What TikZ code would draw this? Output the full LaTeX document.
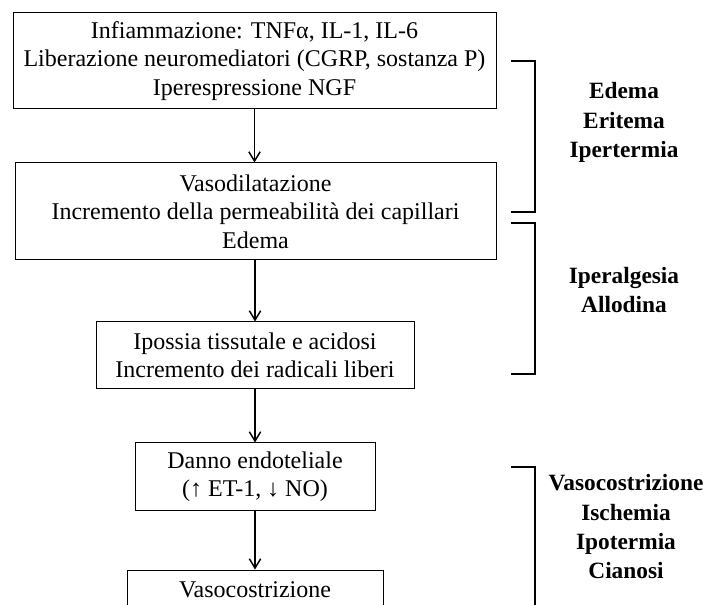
\documentclass[tikz,border=0pt]{standalone}
\usepackage{fontspec}
\setmainfont{Liberation Serif}
\usetikzlibrary{arrows.meta}

\begin{document}
\begin{tikzpicture}[x=0.75pt,y=0.75pt,yscale=-1,
	stepbox/.style={draw, line width=0.75pt, inner sep=0pt, align=center, font=\fontsize{18}{21.4}\selectfont},
	flow/.style={line width=1.1pt, -{Straight Barb[length=7pt,width=8.5pt]}},
	bracket/.style={line width=1.6pt},
	effect/.style={anchor=base, inner sep=0pt, font=\fontsize{17.5}{21}\selectfont\bfseries}]
	%set diagram to 710 x 605
	\clip (0,0) rectangle (710,605);
	
	%Shape: Rectangle [id:infl]
	\draw (254.5,61) node (infl) [stepbox, minimum width=362.25pt, minimum height=72pt] {Infiammazione: TNFα, IL-1, IL-6\\Liberazione neuromediatori (CGRP, sostanza P)\\Iperespressione NGF};
	%Shape: Rectangle [id:vaso]
	\draw (255.5,211.5) node (vaso) [stepbox, minimum width=360.75pt, minimum height=72.75pt] {Vasodilatazione\\Incremento della permeabilità dei capillari\\Edema};
	%Shape: Rectangle [id:ipox]
	\draw (255,355.5) node (ipox) [stepbox, minimum width=238.5pt, minimum height=50.25pt] {Ipossia tissutale e acidosi\\Incremento dei radicali liberi};
	%Shape: Rectangle [id:endo]
	\draw (255,476.5) node (endo) [stepbox, minimum width=180pt, minimum height=50.25pt] {Danno endoteliale\\(↑ ET-1, ↓ NO)};
	%Shape: Rectangle [id:costr]
	\draw (255,590) node (costr) [stepbox, minimum width=192pt, minimum height=30pt] {Vasocostrizione};
	
	%Straight Lines
	\draw [flow] (infl.south) -- (infl.south |- vaso.north);
	\draw [flow] (vaso.south -| ipox.north) -- (ipox.north);
	\draw [flow] (ipox.south) -- (endo.north);
	\draw [flow] (endo.south) -- (costr.north);
	
	%Brackets
	\draw [bracket] (511,61) -- (535,61) -- (535,212) -- (511,212);
	\draw [bracket] (511,223) -- (535,223) -- (535,374) -- (511,374);
	\draw [bracket] (511,467) -- (535,467) -- (535,620);
	
	% Text Node
	\draw (624,99) node (edema) [effect] {Edema};
	\draw (624,129) node (eritema) [effect] {Eritema};
	\draw (624,158) node (iperterm) [effect] {Ipertermia};
	% Text Node
	\draw (624,284) node (iperalg) [effect] {Iperalgesia};
	\draw (624,313) node (allod) [effect] {Allodina};
	% Text Node
	\draw (626,490) node (vasoc) [effect] {Vasocostrizione};
	\draw (626,520) node (ischem) [effect] {Ischemia};
	\draw (626,549) node (ipoterm) [effect] {Ipotermia};
	\draw (626,578) node (cian) [effect] {Cianosi};
	
\end{tikzpicture}
\end{document}
